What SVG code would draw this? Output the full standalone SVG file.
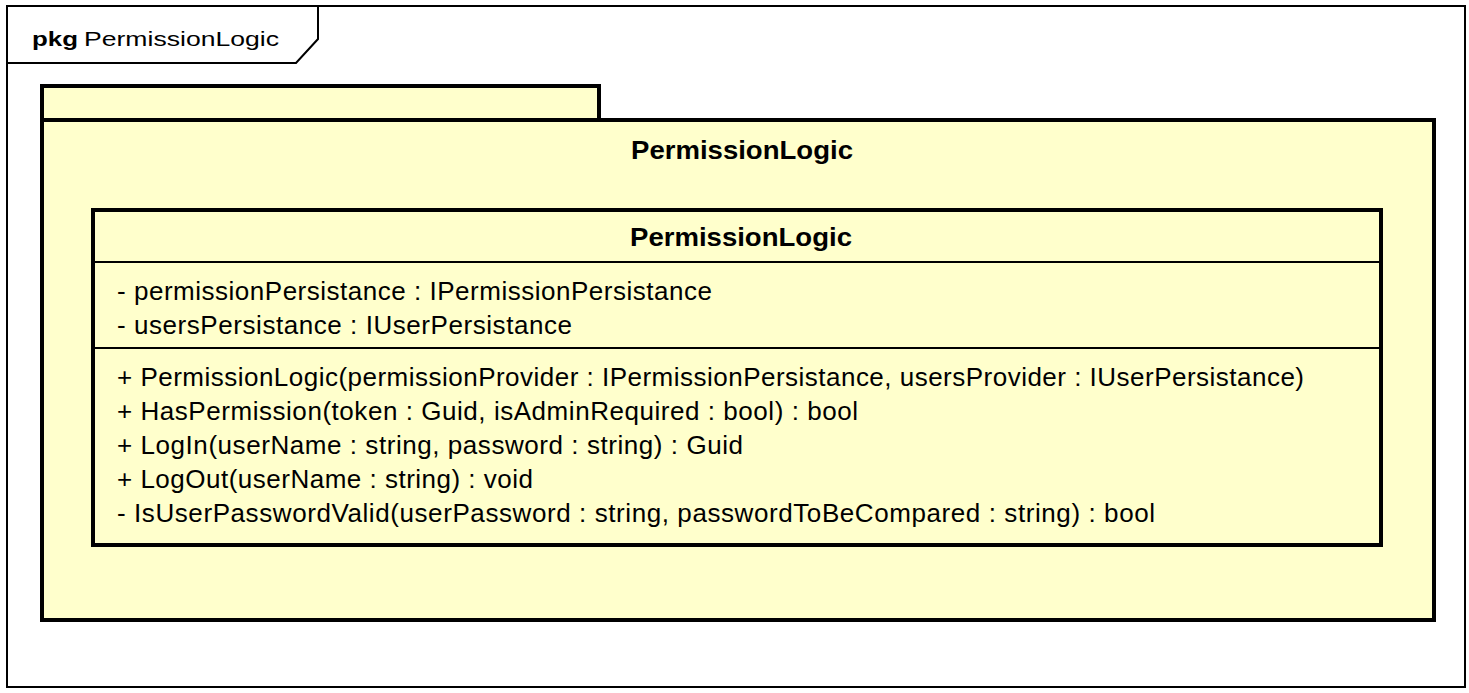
<svg xmlns="http://www.w3.org/2000/svg" width="1469" height="693" viewBox="0 0 1469 693">
<style>
.frame{fill:#fff;stroke:#000;stroke-width:2}
.pkg{fill:#FFFFCC;stroke:#000;stroke-width:4}
.sep{stroke:#000;stroke-width:2}
.t{font-family:"Liberation Sans",Arial,sans-serif;font-size:26px;fill:#000}
.s{font-family:"Liberation Sans",Arial,sans-serif;font-size:21px;fill:#000}
.b{font-weight:bold}
</style>
<rect width="1469" height="693" fill="#fff"/>
<g id="frame">
<rect class="frame" x="7" y="6" width="1458" height="681"/>
<path d="M7,63 H296 L318,39 V6" fill="none" stroke="#000" stroke-width="2"/>
<text class="s b" x="32" y="46" textLength="46" lengthAdjust="spacingAndGlyphs">pkg</text>
<text class="s" x="84" y="46" textLength="195" lengthAdjust="spacingAndGlyphs">PermissionLogic</text>
</g>
<g id="package">
<rect class="pkg" x="42" y="86" width="557" height="34"/>
<rect class="pkg" x="42" y="120" width="1392" height="500"/>
<text class="t b" x="631" y="159" textLength="222" lengthAdjust="spacingAndGlyphs">PermissionLogic</text>
</g>
<g id="class">
<rect class="pkg" x="93" y="210" width="1288" height="335"/>
<line class="sep" x1="93" y1="262" x2="1381" y2="262"/>
<line class="sep" x1="93" y1="348" x2="1381" y2="348"/>
<text class="t b" x="630" y="246" textLength="222" lengthAdjust="spacingAndGlyphs">PermissionLogic</text>
<text class="t" x="117" y="300" textLength="595">- permissionPersistance : IPermissionPersistance</text>
<text class="t" x="117" y="334" textLength="455">- usersPersistance : IUserPersistance</text>
<text class="t" x="117" y="386" textLength="1187">+ PermissionLogic(permissionProvider : IPermissionPersistance, usersProvider : IUserPersistance)</text>
<text class="t" x="117" y="420" textLength="741">+ HasPermission(token : Guid, isAdminRequired : bool) : bool</text>
<text class="t" x="117" y="454" textLength="626">+ LogIn(userName : string, password : string) : Guid</text>
<text class="t" x="117" y="488" textLength="416">+ LogOut(userName : string) : void</text>
<text class="t" x="117" y="522" textLength="1038">- IsUserPasswordValid(userPassword : string, passwordToBeCompared : string) : bool</text>
</g>
<g id="connectors"></g>
</svg>
